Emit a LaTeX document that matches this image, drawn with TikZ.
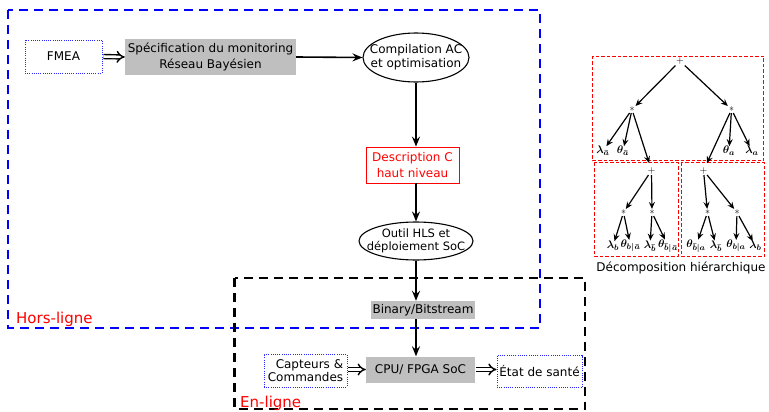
\documentclass[tikz,border=0pt]{standalone}
\usepackage{fontspec}
\setmainfont{DejaVu Sans}
\usetikzlibrary{arrows.meta,shapes.geometric}

\tikzset{
  txt/.style={font=\fontsize{12}{15}\selectfont, align=center, inner sep=0pt},
  dotbox/.style={txt, draw=blue!85, line width=0.9pt, dash pattern=on 1pt off 1.2pt},
  graybox/.style={txt, fill=gray!50},
  redbox/.style={txt, draw=red, text=red, line width=0.8pt},
  % negative inner sep lets the text reach the outline, the size comes from minimum width/height
  ell/.style={txt, ellipse, draw, line width=1.1pt, inner xsep=-30pt, inner ysep=-15pt},
  frameline/.style={line width=2.3pt, dash pattern=on 9pt off 6pt},
  flow/.style={line width=1.6pt, -{Stealth[length=10pt,width=8pt,inset=3.5pt]}},
  dbl/.style={double, double distance=2.6pt, line width=1.4pt,
              -{Implies[length=6pt,width=13pt]}, shorten <=1pt},
  treebox/.style={draw=red, line width=0.9pt, dash pattern=on 3.5pt off 2pt},
  op/.style={inner sep=1pt, font=\fontsize{10}{10}\selectfont},
  leaf/.style={inner sep=0pt, font=\fontsize{11}{11}\selectfont\boldmath},
  tarrow/.style={line width=1.2pt, -{Stealth[length=7pt,width=6pt,inset=2.5pt]}},
  zone/.style={text=red, font=\fontsize{15}{15}\selectfont, anchor=west, inner sep=0pt},
}

\begin{document}
\begin{tikzpicture}[x=1pt,y=-1pt]
\useasboundingbox (0,0) rectangle (769,412);

% offline / online zones
\draw[frameline, blue] (8,10) rectangle (540,328);
\draw[frameline, black] (234.5,278) rectangle (585,409);
\node[zone] (hors) at (16,319) {Hors-ligne};
\node[zone] (enligne) at (240,403) {En-ligne};

% offline flow
\node[dotbox, minimum width=77pt, minimum height=33pt] (fmea) at (63.5,56.5) {FMEA};
\node[graybox, minimum width=171pt, minimum height=36pt,
      font=\fontsize{12}{15.5}\selectfont] (spec) at (210.5,57)
      {Spécification du monitoring\\Réseau Bayésien};
\node[ell, minimum width=106pt, minimum height=49pt,
      font=\fontsize{12}{14}\selectfont] (comp) at (416,57.5)
      {Compilation AC\\et optimisation};
\node[redbox, minimum width=93pt, minimum height=36pt,
      font=\fontsize{12}{16}\selectfont] (desc) at (412.5,165)
      {Description C\\haut niveau};
\node[ell, minimum width=114pt, minimum height=38pt,
      font=\fontsize{11.5}{13}\selectfont] (hls) at (416,241)
      {Outil HLS et\\déploiement SoC};
\node[graybox, minimum width=104pt, minimum height=18pt] (bin) at (423,310)
      {Binary/Bitstream};

% online flow
\node[graybox, minimum width=109pt, minimum height=26pt] (cpu) at (420.5,369.5)
      {CPU/ FPGA SoC};
\node[dotbox, align=right, minimum width=83pt, minimum height=33pt,
      font=\fontsize{12}{12.5}\selectfont] (capt) at (305.5,370.5)
      {Capteurs \&\\Commandes};
\node[dotbox, minimum width=85pt, minimum height=32pt] (etat) at (539.5,371.5)
      {État de santé};

\draw[dbl] (fmea.east) -- (spec.west);
\draw[flow] (spec.east) -- (comp.west);
\draw[flow] (comp.south) -- (comp |- desc.north);
\draw[flow] (comp |- desc.south) -- (hls.north);
\draw[flow] (hls.south) -- (hls |- bin.north);
\draw[flow] (hls |- bin.south) -- (hls |- cpu.north);
\draw[dbl] (capt.east |- cpu) -- (cpu.west);
\draw[dbl] (cpu.east) -- (etat.west |- cpu);

% hierarchical decomposition
\draw[treebox] (592.5,56) rectangle (763.5,160.5);
\draw[treebox] (594,162.5) rectangle (678,256);
\draw[treebox] (681,162.5) rectangle (764.5,256);
\node[txt] (decomp) at (681,268) {Décomposition hiérarchique};

% top level
\node[op] (p0) at (680,61) {$+$};
\node[op] (sl) at (632,109.5) {$\ast$};
\node[op] (sr) at (731.5,109.5) {$\ast$};
\node[leaf] (la) at (603,151) {$\lambda_{\bar a}$};
\node[leaf] (ta) at (623,151) {$\theta_{\bar a}$};
\node[leaf] (tA) at (729,151) {$\theta_a$};
\node[leaf] (lA) at (752,151) {$\lambda_a$};

% left sub-tree
\node[op] (p1) at (651.5,170.5) {$+$};
\node[op] (s1) at (623.5,212.5) {$\ast$};
\node[op] (s2) at (652,212.5) {$\ast$};
\node[leaf] (l1) at (613,246) {$\lambda_b$};
\node[leaf] (t1) at (630.5,246) {$\theta_{b|\mkern1.5mu\bar a}$};
\node[leaf] (l2) at (650,246) {$\lambda_{\bar b}$};
\node[leaf] (t2) at (668,246) {$\theta_{\bar b|\mkern1.5mu\bar a}$};

% right sub-tree
\node[op] (p2) at (703.5,170.5) {$+$};
\node[op] (s3) at (707.5,212.5) {$\ast$};
\node[op] (s4) at (737,212.5) {$\ast$};
\node[leaf] (t3) at (696,246) {$\theta_{\bar b|a}$};
\node[leaf] (l3) at (716,246) {$\lambda_{\bar b}$};
\node[leaf] (t4) at (736,246) {$\theta_{b|a}$};
\node[leaf] (l4) at (755.5,246) {$\lambda_b$};

\draw[tarrow] (p0) -- (sl);
\draw[tarrow] (p0) -- (sr);
\draw[tarrow] (sl) -- (la);
\draw[tarrow] (sl) -- (ta);
\draw[tarrow, shorten >=3pt] (sl) -- (p1);
\draw[tarrow, shorten >=3pt] (sr) -- (p2);
\draw[tarrow] (sr) -- (tA);
\draw[tarrow] (sr) -- (lA);

\draw[tarrow] (p1) -- (s1);
\draw[tarrow] (p1) -- (s2);
\draw[tarrow] (s1) -- (l1);
\draw[tarrow] (s1) -- (t1);
\draw[tarrow] (s2) -- (l2);
\draw[tarrow] (s2) -- (t2);

\draw[tarrow] (p2) -- (s3);
\draw[tarrow] (p2) -- (s4);
\draw[tarrow] (s3) -- (t3);
\draw[tarrow] (s3) -- (l3);
\draw[tarrow] (s4) -- (t4);
\draw[tarrow] (s4) -- (l4);
\end{tikzpicture}
\end{document}
